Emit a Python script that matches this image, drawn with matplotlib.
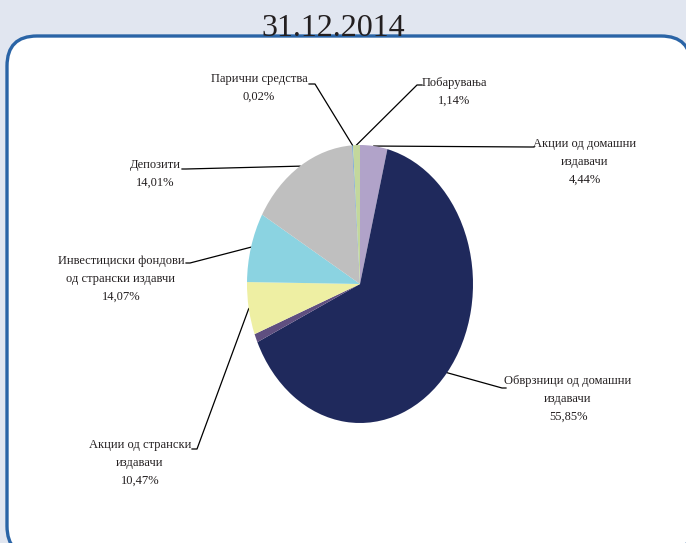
import numpy as np
import matplotlib.pyplot as plt
from matplotlib.patches import FancyBboxPatch

plt.rcParams['font.family'] = ['Liberation Serif', 'DejaVu Serif']

# slices clockwise from 12 o'clock, sizes
categories = ['Акции од домашни издавачи', 'Обврзници од домашни издавачи', 'Останато',
              'Акции од странски издавачи', 'Инвестициски фондови од странски издавчи',
              'Депозити', 'Парични средства', 'Побарувања']
shares = [3.9, 64.3, 1.0, 6.1, 8.1, 15.6, 0.1, 1.0]
pct_labels = ['4,44%', '55,85%', '', '10,47%', '14,07%', '14,01%', '0,02%', '1,14%']
label_lines = [['Акции од домашни', 'издавачи'],
               ['Обврзници од домашни', 'издавачи'],
               [],
               ['Акции од странски', 'издавачи'],
               ['Инвестициски фондови', 'од странски издавчи'],
               ['Депозити'],
               ['Парични средства'],
               ['Побарувања']]
colors = ['#b1a3c9', '#1f295c', '#5f4f80', '#eeefa3', '#8bd3e1', '#bfbfbf', '#4a8bd4', '#c3d79c']

# label placement in pixels (x of text center, y of first line, leader elbow, leader end)
label_pos = {0: (585, 144, (530, 147), 534),
             1: (568, 381, (502, 388), 506),
             3: (140, 445, (197, 449), 192),
             4: (121, 261, (190, 263), 186),
             5: (155, 165, (186, 169), 182),
             6: (259, 79, (315, 84), 309),
             7: (454, 83, (417, 85), 422)}

W, H = 686, 543
fig = plt.figure(figsize=(W / 100, H / 100), dpi=100)
fig.patch.set_facecolor('#e1e6f0')

# overlay axes in pixel coordinates
lax = fig.add_axes([0, 0, 1, 1])
lax.set_xlim(0, W)
lax.set_ylim(H, 0)
lax.axis('off')
frame = FancyBboxPatch((7, 36), 684, 520, boxstyle='round,pad=0,rounding_size=30',
                       facecolor='white', edgecolor='#2a64a6', linewidth=2.4, clip_on=False)
lax.add_patch(frame)
lax.text(333, 36, '31.12.2014', ha='center', va='baseline', fontsize=23, color='#231f20')

# pie axes: elliptical pie as in the reference
cx, cy, rx, ry = 360, 284, 113, 139
pax = fig.add_axes([(cx - rx) / W, (H - cy - ry) / H, 2 * rx / W, 2 * ry / H])
wedges, _ = pax.pie(shares, colors=colors, startangle=90, counterclock=False,
                    wedgeprops=dict(linewidth=0))
pax.set_aspect('auto')
pax.set_xlim(-1, 1)
pax.set_ylim(-1, 1)
pax.axis('off')

to_lax = pax.transData + lax.transData.inverted()
for i, w in enumerate(wedges):
    if i not in label_pos:
        continue
    tx, ty, elbow, end_x = label_pos[i]
    mid = np.deg2rad((w.theta1 + w.theta2) / 2)
    ax_pt = to_lax.transform((np.cos(mid), np.sin(mid)))
    lax.plot([ax_pt[0], elbow[0], end_x], [ax_pt[1], elbow[1], elbow[1]],
             color='black', linewidth=0.9, zorder=5)
    lines = label_lines[i] + [pct_labels[i]]
    for k, s in enumerate(lines):
        lax.text(tx, ty + k * 18, s, ha='center', va='center', fontsize=9, color='#231f20')

fig.savefig('out.png', dpi=100, facecolor=fig.get_facecolor())
